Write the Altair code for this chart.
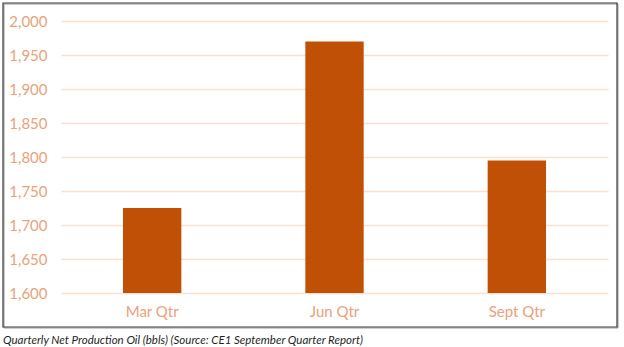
import altair as alt
import pandas as pd

quarters = ["Mar Qtr", "Jun Qtr", "Sept Qtr"]
production = [1725, 1970, 1795]
y_ticks = [1600, 1650, 1700, 1750, 1800, 1850, 1900, 1950, 2000]
caption = "Quarterly Net Production Oil (bbls) (Source: CE1 September Quarter Report)"

BAR = "#BF5006"
LABEL = "#E8A27C"
GRID = "#F9E0CF"
FONT = "Lato"

df = pd.DataFrame({"quarter": quarters, "oil": production})

bars = alt.Chart(df).mark_bar(color=BAR).encode(
    x=alt.X(
        "quarter:N",
        sort=quarters,
        title=None,
        scale=alt.Scale(paddingInner=0.68, paddingOuter=0.34),
        axis=alt.Axis(
            labelAngle=0, labelColor=LABEL, labelFont=FONT, labelFontSize=15,
            labelPadding=11, ticks=False, tickSize=0, domain=False, grid=False,
        ),
    ),
    y=alt.Y(
        "oil:Q",
        title=None,
        scale=alt.Scale(domain=[1600, 2000], zero=False, nice=False),
        axis=alt.Axis(
            values=y_ticks, format=",.0f", labelColor=LABEL, labelFont=FONT,
            labelFontSize=15, labelPadding=14, ticks=False, tickSize=0,
            domain=False, grid=True, gridColor=GRID, gridWidth=1.3,
        ),
    ),
    y2=alt.datum(1600),
)

one = alt.Data(values=[{"k": 1}])

frame_shadow = alt.Chart(one).mark_rect(
    fill=None, stroke="#9a9a9a", strokeWidth=1
).encode(
    x=alt.value(-57), x2=alt.value(557), y=alt.value(-17), y2=alt.value(307)
)

frame = alt.Chart(one).mark_rect(
    fill=None, stroke="#3a3a3a", strokeWidth=1.2
).encode(
    x=alt.value(-58), x2=alt.value(556), y=alt.value(-18), y2=alt.value(306)
)

cap = alt.Chart(one).mark_text(
    text=caption, align="left", baseline="alphabetic", font=FONT,
    fontStyle="italic", fontSize=11.5, color="#1f1f1f"
).encode(x=alt.value(-58), y=alt.value(323))

chart = alt.layer(bars, frame_shadow, frame, cap).properties(
    width=547,
    height=272,
    autosize=alt.AutoSizeParams(type="none"),
    padding={"left": 61, "top": 21, "right": 16, "bottom": 54},
    background="white",
).configure_view(stroke=None)

chart.save("out.html", embed_options={"renderer": "svg", "actions": False})
